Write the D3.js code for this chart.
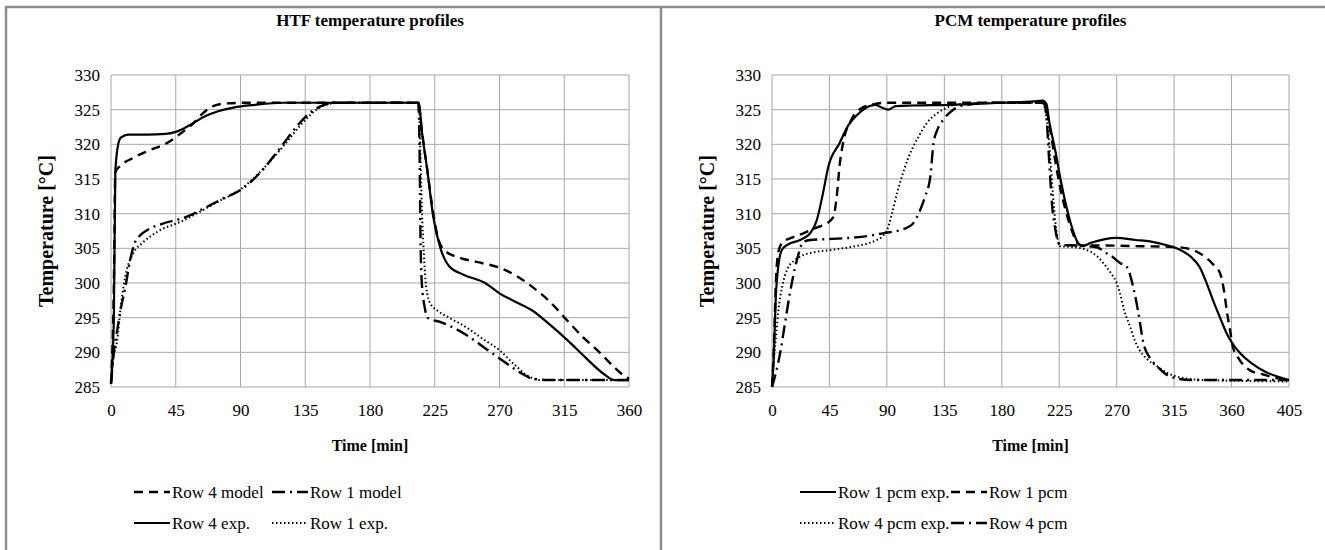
<!DOCTYPE html>
<html>
<head>
<meta charset="utf-8">
<script src="https://cdn.jsdelivr.net/npm/d3@7"></script>
<style>
  body { margin: 0; background: #fff; }
  svg { display: block; }
  svg text { font-family: "Liberation Serif", "Times New Roman", serif; fill: #000; }
</style>
</head>
<body>
<svg id="chart" width="1325" height="550"></svg>
<script>
// ---- data: [time min, temperature °C] ----
const htfRow4Model = [[0,285.5],[2,300],[3,316],[6,316.8],[15,318],[25,319],[39,320.2],[48,321.5],[57,323],[64,324.5],[71,325.5],[80,325.9],[95,326],[150,326],[213.5,326],[216,322],[220,316],[224,310],[228,306],[233,304.5],[243,303.6],[255,303],[270,302.2],[282,301],[293,299.4],[305,297.3],[317,294.6],[328,292.2],[340,289.9],[350,287.8],[356,286.7],[360,286.2]];
const htfRow1Model = [[0,285.5],[2,290],[4,292.8],[7,296.5],[10,299.4],[13,303],[16,305.5],[20,306.8],[25,307.6],[35,308.5],[52,309.5],[65,310.8],[78,312.2],[90,313.4],[104,316],[118,319.6],[130,322.8],[138,324.5],[146,325.5],[155,326],[213.5,326],[214.5,318],[215,308],[216,300],[218,296.5],[220,295],[230,294.3],[247,292.5],[260,290.6],[275,288.4],[285,287],[293,286.2],[305,286],[360,286]];
const htfRow4Exp = [[0,285.5],[2,295],[3,316],[5,320],[7,321],[12,321.4],[25,321.4],[38,321.5],[45,321.8],[55,322.8],[65,324],[75,324.8],[85,325.3],[100,325.7],[120,326],[214,326],[216,322],[220,316],[224,309.5],[229,305],[235.5,302.3],[245,301.2],[260,300],[270,298.5],[282,297.2],[293,296],[305,294],[317,291.8],[330,289.2],[343,286.8],[350,286],[360,286]];
const htfRow1Exp = [[0,285.5],[1.5,289],[4,291.3],[7,297],[10,301],[15.5,304.3],[22,305.8],[34,307.6],[48,308.8],[62,310.3],[75,311.8],[90,313.5],[105,316.3],[120,319.8],[135,323.5],[145,325.3],[158,326],[214,326],[215,319],[216,311],[217.5,304],[219,299.5],[222,297],[227,296],[235,295],[247,293.6],[258,292],[270,290.3],[280,288.3],[289,286.7],[298,286],[360,286]];

const pcmRow1Exp = [[0,285],[1.5,290],[3,298],[5,302.5],[7.8,304.8],[12,305.5],[22,306.2],[30,307.2],[35,309],[40,313],[44,316.7],[53,320.2],[60,322.8],[66.5,324.2],[73,325.2],[81,325.7],[86,325.3],[91,325],[97,325.5],[110,325.6],[140,325.7],[180,326],[205,326.2],[212,326.3],[215,325.8],[217,323.5],[222,319],[226,315],[230,311.5],[235,308],[239,306],[243,305.3],[250,305.8],[260,306.3],[270,306.5],[285,306.2],[296,306],[310,305.4],[319.6,304.8],[328,303.8],[335,302.3],[340,300.2],[345.5,297.5],[351,295],[356,292.8],[361,291.2],[366.6,289.9],[375,288.5],[387.5,287.1],[396,286.5],[405,286]];
const pcmRow1Model = [[0,285],[1.5,291],[3,300],[5,304.5],[8,305.8],[15,306.5],[25,307.2],[35,308],[42,308.5],[48,309.5],[51,313],[53,317],[56,320.5],[62,323.5],[70,325.2],[80,325.8],[90,326],[150,326],[212,326],[215,325],[218,322],[222,317.5],[226,313.5],[230,310.5],[235,307.5],[239,305.8],[243,305.4],[260,305.4],[290,305.3],[315,305.2],[325,305],[335,304.3],[345,302.8],[351,301.4],[354,299],[356.5,295.7],[359,293],[361,290.8],[366,289],[374.5,287.4],[385,286.8],[395,286.3],[405,286]];
const pcmRow4Exp = [[0,285],[2,290],[3.5,293],[5,296],[8,299.5],[12,302],[18,303.3],[22,303.8],[35,304.5],[48,304.8],[65,305.3],[75,305.7],[82,306.2],[87,306.8],[90,307.6],[94,310],[98,313],[102,315.5],[106,317.7],[110.5,319.6],[114.5,321],[121,323],[128,324.3],[134,325],[147,325.8],[180,326],[212,326],[214,325],[216,322.5],[218,318],[220,313],[223,307.2],[225.6,305.3],[235,305.2],[246,304.8],[255,303.8],[262,302.3],[266,301.3],[270,300],[272.6,298.5],[276,296],[280.5,293.7],[284,291.8],[288,290.3],[294,289],[301.6,288],[310,287],[322,286.3],[340,286],[405,285.8]];
const pcmRow4Model = [[0,285],[3,287],[6.5,290],[10,294],[14,298.5],[19.5,303.3],[24.5,305.9],[30,306.2],[40,306.3],[60,306.5],[76,306.8],[87.5,307.2],[100,307.6],[106,308],[110.6,308.6],[116,310.5],[120,312.5],[124,315.3],[126.5,320.1],[130,322.3],[134,323.5],[142,325],[152.5,325.7],[170,326],[213,326],[215,324],[217,318],[219.5,311],[221.7,308],[224,306],[226,305.5],[240,305.4],[255,305.1],[262,304.3],[265,304],[272.6,302.9],[278,302.3],[283,299.4],[287,295.7],[291,291.3],[296,289.2],[301.6,288],[312,286.5],[327.5,286],[405,286]];

const yTicks = [285, 290, 295, 300, 305, 310, 315, 320, 325, 330];
const htfXTicks = [0, 45, 90, 135, 180, 225, 270, 315, 360];
const pcmXTicks = [0, 45, 90, 135, 180, 225, 270, 315, 360, 405];

const styles = {
    solid: { width: 2.2, dash: null },
    dashed: { width: 2.4, dash: "9,6" },
    dashdot: { width: 2.4, dash: "13,5,2,5" },
    dotted: { width: 2, dash: "1.5,2.5" }
};

const svg = d3.select("#chart");

// outer frame + separator
svg.append("path")
    .attr("d", "M6,550V7H1325M661,7V550")
    .attr("fill", "none")
    .attr("stroke", "#8c8c8c")
    .attr("stroke-width", 2.5);

function drawPanel(p) {
    const g = svg.append("g");
    const top = 75, bottom = 387;

    var x = d3.scaleLinear().domain([0, d3.max(p.xTicks)]).range([p.left, p.right]);
    var y = d3.scaleLinear().domain([285, 330]).range([bottom, top]);

    // gridlines
    g.selectAll(".vgrid").data(p.xTicks).enter().append("line")
        .attr("x1", d => x(d)).attr("x2", d => x(d))
        .attr("y1", top).attr("y2", bottom)
        .attr("stroke", "#a6a6a6").attr("stroke-width", 1);
    g.selectAll(".hgrid").data(yTicks).enter().append("line")
        .attr("x1", p.left).attr("x2", p.right)
        .attr("y1", d => y(d)).attr("y2", d => y(d))
        .attr("stroke", "#a6a6a6").attr("stroke-width", 1);

    // axes (labels only)
    const ya = g.append("g")
        .attr("transform", `translate(${p.left},0)`)
        .call(d3.axisLeft(y).tickValues(yTicks).tickSize(0).tickPadding(11));
    const xa = g.append("g")
        .attr("transform", `translate(0,${bottom})`)
        .call(d3.axisBottom(x).tickValues(p.xTicks).tickSize(0).tickPadding(17));
    [ya, xa].forEach(a => {
        a.attr("font-family", null).attr("font-size", null);
        a.select(".domain").remove();
        a.selectAll("text").style("font-size", "17px");
    });

    // titles
    g.append("text").attr("x", (p.left + p.right) / 2).attr("y", 26)
        .attr("text-anchor", "middle").style("font-weight", "bold").style("font-size", "17px")
        .text(p.title);
    g.append("text").attr("x", (p.left + p.right) / 2).attr("y", 451)
        .attr("text-anchor", "middle").style("font-weight", "bold").style("font-size", "16px")
        .text("Time [min]");
    g.append("text")
        .attr("transform", `translate(${p.left - 65},${(top + bottom) / 2}) rotate(-90)`)
        .attr("text-anchor", "middle").style("font-weight", "bold").style("font-size", "20px")
        .attr("dy", "0.35em")
        .text("Temperature [°C]");

    // lines
    const line = d3.line()
        .x(d => x(d[0]))
        .y(d => y(d[1]))
        .curve(d3.curveMonotoneX);

    p.series.forEach(s => {
        const st = styles[s.style];
        g.append("path")
            .datum(s.data)
            .attr("fill", "none")
            .attr("stroke", "#000")
            .attr("stroke-width", st.width)
            .attr("stroke-dasharray", st.dash)
            .attr("stroke-linejoin", "round")
            .attr("d", line);
    });

    // legend
    p.series.forEach((s, i) => {
        const st = styles[s.style];
        const lx = p.legendCols[i % 2];
        const ly = i < 2 ? 492 : 523;
        g.append("line")
            .attr("x1", lx).attr("x2", lx + 36)
            .attr("y1", ly).attr("y2", ly)
            .attr("stroke", "#000").attr("stroke-width", st.width)
            .attr("stroke-dasharray", st.dash);
        g.append("text")
            .attr("x", lx + 38).attr("y", ly).attr("dy", "0.35em")
            .style("font-size", "17px")
            .text(s.name);
    });
}

drawPanel({
    left: 111, right: 629,
    title: "HTF temperature profiles",
    xTicks: htfXTicks,
    series: [
        { name: "Row 4 model", data: htfRow4Model, style: "dashed" },
        { name: "Row 1 model", data: htfRow1Model, style: "dashdot" },
        { name: "Row 4 exp.", data: htfRow4Exp, style: "solid" },
        { name: "Row 1 exp.", data: htfRow1Exp, style: "dotted" }
    ],
    legendCols: [134, 272]
});

drawPanel({
    left: 772, right: 1289,
    title: "PCM temperature profiles",
    xTicks: pcmXTicks,
    series: [
        { name: "Row 1 pcm exp.", data: pcmRow1Exp, style: "solid" },
        { name: "Row 1 pcm", data: pcmRow1Model, style: "dashed" },
        { name: "Row 4 pcm exp.", data: pcmRow4Exp, style: "dotted" },
        { name: "Row 4 pcm", data: pcmRow4Model, style: "dashdot" }
    ],
    legendCols: [800, 951]
});
</script>
</body>
</html>
